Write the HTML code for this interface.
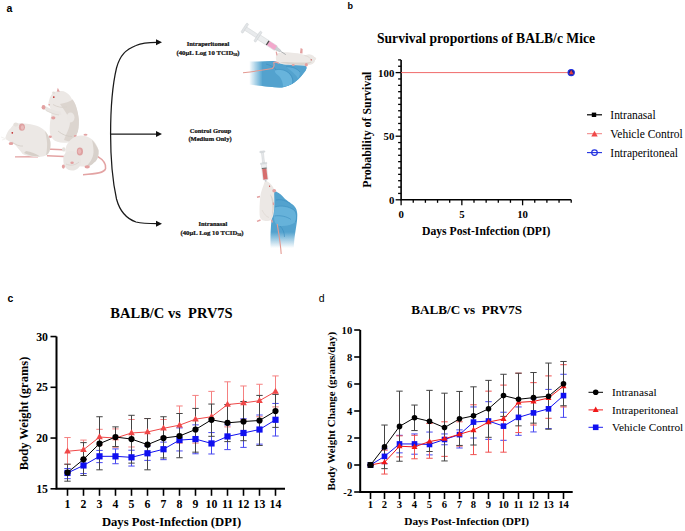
<!DOCTYPE html>
<html><head><meta charset="utf-8"><style>
html,body{margin:0;padding:0;background:#fff;}
body{width:685px;height:531px;overflow:hidden;position:relative;}
svg{position:absolute;left:0;top:0;}
</style></head><body>
<svg width="685" height="531" viewBox="0 0 685 531" style="font-family:'Liberation Serif',serif">
<text x="6.5" y="12" font-size="10.5" font-weight="bold" font-family="'Liberation Sans',sans-serif">a</text>
<text x="347.5" y="8.5" font-size="9" font-weight="bold" font-family="'Liberation Sans',sans-serif">b</text>
<text x="7.5" y="302" font-size="10.5" font-weight="bold" font-family="'Liberation Sans',sans-serif">c</text>
<text x="318.8" y="302" font-size="10.5" font-weight="normal" font-family="'Liberation Sans',sans-serif">d</text>
<path d="M401.1,59.88V199.8H571.20" fill="none" stroke="#000" stroke-width="1.6"/>
<path d="M395.60,199.80H401.1" stroke="#000" stroke-width="1.3"/>
<path d="M398.10,193.44H401.1" stroke="#000" stroke-width="1.3"/>
<path d="M398.10,187.08H401.1" stroke="#000" stroke-width="1.3"/>
<path d="M398.10,180.72H401.1" stroke="#000" stroke-width="1.3"/>
<path d="M398.10,174.36H401.1" stroke="#000" stroke-width="1.3"/>
<path d="M398.10,168.00H401.1" stroke="#000" stroke-width="1.3"/>
<path d="M398.10,161.64H401.1" stroke="#000" stroke-width="1.3"/>
<path d="M398.10,155.28H401.1" stroke="#000" stroke-width="1.3"/>
<path d="M398.10,148.92H401.1" stroke="#000" stroke-width="1.3"/>
<path d="M398.10,142.56H401.1" stroke="#000" stroke-width="1.3"/>
<path d="M395.60,136.20H401.1" stroke="#000" stroke-width="1.3"/>
<path d="M398.10,129.84H401.1" stroke="#000" stroke-width="1.3"/>
<path d="M398.10,123.48H401.1" stroke="#000" stroke-width="1.3"/>
<path d="M398.10,117.12H401.1" stroke="#000" stroke-width="1.3"/>
<path d="M398.10,110.76H401.1" stroke="#000" stroke-width="1.3"/>
<path d="M398.10,104.40H401.1" stroke="#000" stroke-width="1.3"/>
<path d="M398.10,98.04H401.1" stroke="#000" stroke-width="1.3"/>
<path d="M398.10,91.68H401.1" stroke="#000" stroke-width="1.3"/>
<path d="M398.10,85.32H401.1" stroke="#000" stroke-width="1.3"/>
<path d="M398.10,78.96H401.1" stroke="#000" stroke-width="1.3"/>
<path d="M395.60,72.60H401.1" stroke="#000" stroke-width="1.3"/>
<path d="M398.10,66.24H401.1" stroke="#000" stroke-width="1.3"/>
<path d="M398.10,59.88H401.1" stroke="#000" stroke-width="1.3"/>
<path d="M401.10,199.8V205.30" stroke="#000" stroke-width="1.3"/>
<path d="M413.25,199.8V202.80" stroke="#000" stroke-width="1.3"/>
<path d="M425.40,199.8V202.80" stroke="#000" stroke-width="1.3"/>
<path d="M437.55,199.8V202.80" stroke="#000" stroke-width="1.3"/>
<path d="M449.70,199.8V202.80" stroke="#000" stroke-width="1.3"/>
<path d="M461.85,199.8V205.30" stroke="#000" stroke-width="1.3"/>
<path d="M474.00,199.8V202.80" stroke="#000" stroke-width="1.3"/>
<path d="M486.15,199.8V202.80" stroke="#000" stroke-width="1.3"/>
<path d="M498.30,199.8V202.80" stroke="#000" stroke-width="1.3"/>
<path d="M510.45,199.8V202.80" stroke="#000" stroke-width="1.3"/>
<path d="M522.60,199.8V205.30" stroke="#000" stroke-width="1.3"/>
<path d="M534.75,199.8V202.80" stroke="#000" stroke-width="1.3"/>
<path d="M546.90,199.8V202.80" stroke="#000" stroke-width="1.3"/>
<path d="M559.05,199.8V202.80" stroke="#000" stroke-width="1.3"/>
<path d="M571.20,199.8V202.80" stroke="#000" stroke-width="1.3"/>
<text x="394.3" y="203.7" font-size="10.8" font-weight="bold" text-anchor="end" fill="#000" >0</text>
<text x="394.3" y="140.1" font-size="10.8" font-weight="bold" text-anchor="end" fill="#000" >50</text>
<text x="394.3" y="76.5" font-size="10.8" font-weight="bold" text-anchor="end" fill="#000" >100</text>
<text x="401.1" y="218.2" font-size="10.8" font-weight="bold" text-anchor="middle" fill="#000" >0</text>
<text x="461.85" y="218.2" font-size="10.8" font-weight="bold" text-anchor="middle" fill="#000" >5</text>
<text x="522.6" y="218.2" font-size="10.8" font-weight="bold" text-anchor="middle" fill="#000" >10</text>
<path d="M401.1,72.60H571.20" stroke="#f06a6a" stroke-width="1"/>
<circle cx="571.20" cy="72.60" r="3.1" fill="#1a1a8a" stroke="#2030e0" stroke-width="1.2"/>
<path d="M571.20,70.09L573.45,74.14L568.95,74.14Z" fill="#e04040"/>
<text x="486" y="43" font-size="13.6" font-weight="bold" text-anchor="middle" fill="#000" >Survival proportions of BALB/c Mice</text>
<text x="486.2" y="234.6" font-size="11.68" font-weight="bold" text-anchor="middle" fill="#000" >Days Post-Infection (DPI)</text>
<text x="0" y="0" font-size="11.9" font-weight="bold" text-anchor="middle" fill="#000" transform="translate(371,129.6) rotate(-90)">Probability of Survival</text>
<path d="M587,114.8H602" stroke="#000" stroke-width="1.2"/><rect x="591.8" y="112.6" width="4.4" height="4.4" fill="#000"/>
<path d="M587,133.7H602" stroke="#f08080" stroke-width="1"/><path d="M594.50,130.73L597.70,136.49L591.30,136.49Z" fill="#f04848"/>
<circle cx="594.5" cy="152.6" r="2.8" fill="#fff" stroke="#2030e0" stroke-width="1.2"/><path d="M587,152.6H602" stroke="#2030e0" stroke-width="1.1"/>
<text x="0" y="0" font-size="11.8" font-weight="normal" text-anchor="start" fill="#000" transform="translate(610.3,119.10) scale(0.975,1)">Intranasal</text>
<text x="0" y="0" font-size="11.8" font-weight="normal" text-anchor="start" fill="#000" transform="translate(610.3,138.00) scale(0.975,1)">Vehicle Control</text>
<text x="0" y="0" font-size="11.8" font-weight="normal" text-anchor="start" fill="#000" transform="translate(610.3,156.90) scale(0.975,1)">Intraperitoneal</text>
<path d="M56.5,336.55V488.8H285" fill="none" stroke="#000" stroke-width="2.0"/>
<path d="M50.50,488.80H56.5" stroke="#000" stroke-width="1.6"/>
<text x="48.0" y="492.8" font-size="11.8" font-weight="bold" text-anchor="end" fill="#000" >15</text>
<path d="M50.50,438.05H56.5" stroke="#000" stroke-width="1.6"/>
<text x="48.0" y="442.05" font-size="11.8" font-weight="bold" text-anchor="end" fill="#000" >20</text>
<path d="M50.50,387.30H56.5" stroke="#000" stroke-width="1.6"/>
<text x="48.0" y="391.3" font-size="11.8" font-weight="bold" text-anchor="end" fill="#000" >25</text>
<path d="M50.50,336.55H56.5" stroke="#000" stroke-width="1.6"/>
<text x="48.0" y="340.55" font-size="11.8" font-weight="bold" text-anchor="end" fill="#000" >30</text>
<path d="M67.50,488.8V495.80" stroke="#000" stroke-width="1.6"/>
<text x="67.5" y="507.8" font-size="11.8" font-weight="bold" text-anchor="middle" fill="#000" >1</text>
<path d="M83.50,488.8V495.80" stroke="#000" stroke-width="1.6"/>
<text x="83.5" y="507.8" font-size="11.8" font-weight="bold" text-anchor="middle" fill="#000" >2</text>
<path d="M99.50,488.8V495.80" stroke="#000" stroke-width="1.6"/>
<text x="99.5" y="507.8" font-size="11.8" font-weight="bold" text-anchor="middle" fill="#000" >3</text>
<path d="M115.50,488.8V495.80" stroke="#000" stroke-width="1.6"/>
<text x="115.5" y="507.8" font-size="11.8" font-weight="bold" text-anchor="middle" fill="#000" >4</text>
<path d="M131.50,488.8V495.80" stroke="#000" stroke-width="1.6"/>
<text x="131.5" y="507.8" font-size="11.8" font-weight="bold" text-anchor="middle" fill="#000" >5</text>
<path d="M147.50,488.8V495.80" stroke="#000" stroke-width="1.6"/>
<text x="147.5" y="507.8" font-size="11.8" font-weight="bold" text-anchor="middle" fill="#000" >6</text>
<path d="M163.50,488.8V495.80" stroke="#000" stroke-width="1.6"/>
<text x="163.5" y="507.8" font-size="11.8" font-weight="bold" text-anchor="middle" fill="#000" >7</text>
<path d="M179.50,488.8V495.80" stroke="#000" stroke-width="1.6"/>
<text x="179.5" y="507.8" font-size="11.8" font-weight="bold" text-anchor="middle" fill="#000" >8</text>
<path d="M195.50,488.8V495.80" stroke="#000" stroke-width="1.6"/>
<text x="195.5" y="507.8" font-size="11.8" font-weight="bold" text-anchor="middle" fill="#000" >9</text>
<path d="M211.50,488.8V495.80" stroke="#000" stroke-width="1.6"/>
<text x="211.5" y="507.8" font-size="11.8" font-weight="bold" text-anchor="middle" fill="#000" >10</text>
<path d="M227.50,488.8V495.80" stroke="#000" stroke-width="1.6"/>
<text x="227.5" y="507.8" font-size="11.8" font-weight="bold" text-anchor="middle" fill="#000" >11</text>
<path d="M243.50,488.8V495.80" stroke="#000" stroke-width="1.6"/>
<text x="243.5" y="507.8" font-size="11.8" font-weight="bold" text-anchor="middle" fill="#000" >12</text>
<path d="M259.50,488.8V495.80" stroke="#000" stroke-width="1.6"/>
<text x="259.5" y="507.8" font-size="11.8" font-weight="bold" text-anchor="middle" fill="#000" >13</text>
<path d="M275.50,488.8V495.80" stroke="#000" stroke-width="1.6"/>
<text x="275.5" y="507.8" font-size="11.8" font-weight="bold" text-anchor="middle" fill="#000" >14</text>
<path d="M67.50,437.54V464.44M64.30,437.54h6.4M64.30,464.44h6.4" stroke="#f58080" stroke-width="1" fill="none"/>
<path d="M83.50,440.08V459.37M80.30,440.08h6.4M80.30,459.37h6.4" stroke="#f58080" stroke-width="1" fill="none"/>
<path d="M99.50,429.32V445.15M96.30,429.32h6.4M96.30,445.15h6.4" stroke="#f58080" stroke-width="1" fill="none"/>
<path d="M115.50,428.92V447.19M112.30,428.92h6.4M112.30,447.19h6.4" stroke="#f58080" stroke-width="1" fill="none"/>
<path d="M131.50,419.48V446.98M128.30,419.48h6.4M128.30,446.98h6.4" stroke="#f58080" stroke-width="1" fill="none"/>
<path d="M147.50,418.56V445.15M144.30,418.56h6.4M144.30,445.15h6.4" stroke="#f58080" stroke-width="1" fill="none"/>
<path d="M163.50,419.48V437.03M160.30,419.48h6.4M160.30,437.03h6.4" stroke="#f58080" stroke-width="1" fill="none"/>
<path d="M179.50,405.98V443.12M176.30,405.98h6.4M176.30,443.12h6.4" stroke="#f58080" stroke-width="1" fill="none"/>
<path d="M195.50,395.42V443.12M192.30,395.42h6.4M192.30,443.12h6.4" stroke="#f58080" stroke-width="1" fill="none"/>
<path d="M211.50,391.36V442.11M208.30,391.36h6.4M208.30,442.11h6.4" stroke="#f58080" stroke-width="1" fill="none"/>
<path d="M227.50,381.82V426.88M224.30,381.82h6.4M224.30,426.88h6.4" stroke="#f58080" stroke-width="1" fill="none"/>
<path d="M243.50,385.98V419.78M240.30,385.98h6.4M240.30,419.78h6.4" stroke="#f58080" stroke-width="1" fill="none"/>
<path d="M259.50,384.25V416.74M256.30,384.25h6.4M256.30,416.74h6.4" stroke="#f58080" stroke-width="1" fill="none"/>
<path d="M275.50,375.93V406.89M272.30,375.93h6.4M272.30,406.89h6.4" stroke="#f58080" stroke-width="1" fill="none"/>
<path d="M67.50,468.50V478.65M64.30,468.50h6.4M64.30,478.65h6.4" stroke="#4848f0" stroke-width="1" fill="none"/>
<path d="M83.50,459.37V473.57M80.30,459.37h6.4M80.30,473.57h6.4" stroke="#4848f0" stroke-width="1" fill="none"/>
<path d="M99.50,450.43V462.61M96.30,450.43h6.4M96.30,462.61h6.4" stroke="#4848f0" stroke-width="1" fill="none"/>
<path d="M115.50,448.91V463.73M112.30,448.91h6.4M112.30,463.73h6.4" stroke="#4848f0" stroke-width="1" fill="none"/>
<path d="M131.50,450.23V466.06M128.30,450.23h6.4M128.30,466.06h6.4" stroke="#4848f0" stroke-width="1" fill="none"/>
<path d="M147.50,446.17V460.38M144.30,446.17h6.4M144.30,460.38h6.4" stroke="#4848f0" stroke-width="1" fill="none"/>
<path d="M163.50,442.11V459.67M160.30,442.11h6.4M160.30,459.67h6.4" stroke="#4848f0" stroke-width="1" fill="none"/>
<path d="M179.50,427.90V450.94M176.30,427.90h6.4M176.30,450.94h6.4" stroke="#4848f0" stroke-width="1" fill="none"/>
<path d="M195.50,424.86V453.78M192.30,424.86h6.4M192.30,453.78h6.4" stroke="#4848f0" stroke-width="1" fill="none"/>
<path d="M211.50,432.57V453.99M208.30,432.57h6.4M208.30,453.99h6.4" stroke="#4848f0" stroke-width="1" fill="none"/>
<path d="M227.50,424.86V449.62M224.30,424.86h6.4M224.30,449.62h6.4" stroke="#4848f0" stroke-width="1" fill="none"/>
<path d="M243.50,418.77V447.39M240.30,418.77h6.4M240.30,447.39h6.4" stroke="#4848f0" stroke-width="1" fill="none"/>
<path d="M259.50,415.01V444.14M256.30,415.01h6.4M256.30,444.14h6.4" stroke="#4848f0" stroke-width="1" fill="none"/>
<path d="M275.50,403.44V436.02M272.30,403.44h6.4M272.30,436.02h6.4" stroke="#4848f0" stroke-width="1" fill="none"/>
<path d="M67.50,464.14V481.19M64.30,464.14h6.4M64.30,481.19h6.4" stroke="#444" stroke-width="1" fill="none"/>
<path d="M83.50,442.62V475.50M80.30,442.62h6.4M80.30,475.50h6.4" stroke="#444" stroke-width="1" fill="none"/>
<path d="M99.50,416.74V469.82M96.30,416.74h6.4M96.30,469.82h6.4" stroke="#444" stroke-width="1" fill="none"/>
<path d="M115.50,426.88V446.58M112.30,426.88h6.4M112.30,446.58h6.4" stroke="#444" stroke-width="1" fill="none"/>
<path d="M131.50,415.31V463.12M128.30,415.31h6.4M128.30,463.12h6.4" stroke="#444" stroke-width="1" fill="none"/>
<path d="M147.50,418.56V469.82M144.30,418.56h6.4M144.30,469.82h6.4" stroke="#444" stroke-width="1" fill="none"/>
<path d="M163.50,416.74V457.94M160.30,416.74h6.4M160.30,457.94h6.4" stroke="#444" stroke-width="1" fill="none"/>
<path d="M179.50,413.49V457.74M176.30,413.49h6.4M176.30,457.74h6.4" stroke="#444" stroke-width="1" fill="none"/>
<path d="M195.50,408.41V452.16M192.30,408.41h6.4M192.30,452.16h6.4" stroke="#444" stroke-width="1" fill="none"/>
<path d="M211.50,404.05V436.32M208.30,404.05h6.4M208.30,436.32h6.4" stroke="#444" stroke-width="1" fill="none"/>
<path d="M227.50,404.56V441.60M224.30,404.56h6.4M224.30,441.60h6.4" stroke="#444" stroke-width="1" fill="none"/>
<path d="M243.50,401.51V440.69M240.30,401.51h6.4M240.30,440.69h6.4" stroke="#444" stroke-width="1" fill="none"/>
<path d="M259.50,395.42V445.46M256.30,395.42h6.4M256.30,445.46h6.4" stroke="#444" stroke-width="1" fill="none"/>
<path d="M275.50,394.40V427.39M272.30,394.40h6.4M272.30,427.39h6.4" stroke="#444" stroke-width="1" fill="none"/>
<polyline points="67.50,451.25 83.50,449.72 99.50,437.03 115.50,438.05 131.50,432.98 147.50,431.96 163.50,428.31 179.50,425.16 195.50,419.17 211.50,416.74 227.50,404.56 243.50,402.93 259.50,400.70 275.50,391.56" fill="none" stroke="#f04848" stroke-width="1"/>
<path d="M67.50,447.53L70.83,453.52L64.17,453.52Z" fill="#f04848"/>
<path d="M83.50,446.00L86.83,452.00L80.17,452.00Z" fill="#f04848"/>
<path d="M99.50,433.32L102.83,439.31L96.17,439.31Z" fill="#f04848"/>
<path d="M115.50,434.33L118.83,440.33L112.17,440.33Z" fill="#f04848"/>
<path d="M131.50,429.26L134.83,435.25L128.17,435.25Z" fill="#f04848"/>
<path d="M147.50,428.24L150.83,434.24L144.17,434.24Z" fill="#f04848"/>
<path d="M163.50,424.59L166.83,430.59L160.17,430.59Z" fill="#f04848"/>
<path d="M179.50,421.44L182.83,427.44L176.17,427.44Z" fill="#f04848"/>
<path d="M195.50,415.45L198.83,421.45L192.17,421.45Z" fill="#f04848"/>
<path d="M211.50,413.02L214.83,419.01L208.17,419.01Z" fill="#f04848"/>
<path d="M227.50,400.84L230.83,406.83L224.17,406.83Z" fill="#f04848"/>
<path d="M243.50,399.21L246.83,405.21L240.17,405.21Z" fill="#f04848"/>
<path d="M259.50,396.98L262.83,402.98L256.17,402.98Z" fill="#f04848"/>
<path d="M275.50,387.84L278.83,393.84L272.17,393.84Z" fill="#f04848"/>
<polyline points="67.50,472.97 83.50,465.45 99.50,456.32 115.50,456.32 131.50,457.33 147.50,453.28 163.50,449.22 179.50,440.08 195.50,439.07 211.50,443.43 227.50,436.43 243.50,432.98 259.50,429.52 275.50,419.78" fill="none" stroke="#1010f0" stroke-width="1"/>
<rect x="64.40" y="469.87" width="6.2" height="6.2" fill="#1010f0"/>
<rect x="80.40" y="462.35" width="6.2" height="6.2" fill="#1010f0"/>
<rect x="96.40" y="453.22" width="6.2" height="6.2" fill="#1010f0"/>
<rect x="112.40" y="453.22" width="6.2" height="6.2" fill="#1010f0"/>
<rect x="128.40" y="454.23" width="6.2" height="6.2" fill="#1010f0"/>
<rect x="144.40" y="450.18" width="6.2" height="6.2" fill="#1010f0"/>
<rect x="160.40" y="446.12" width="6.2" height="6.2" fill="#1010f0"/>
<rect x="176.40" y="436.98" width="6.2" height="6.2" fill="#1010f0"/>
<rect x="192.40" y="435.97" width="6.2" height="6.2" fill="#1010f0"/>
<rect x="208.40" y="440.33" width="6.2" height="6.2" fill="#1010f0"/>
<rect x="224.40" y="433.33" width="6.2" height="6.2" fill="#1010f0"/>
<rect x="240.40" y="429.88" width="6.2" height="6.2" fill="#1010f0"/>
<rect x="256.40" y="426.42" width="6.2" height="6.2" fill="#1010f0"/>
<rect x="272.40" y="416.68" width="6.2" height="6.2" fill="#1010f0"/>
<polyline points="67.50,472.56 83.50,459.37 99.50,443.63 115.50,437.03 131.50,439.07 147.50,444.65 163.50,438.05 179.50,436.02 195.50,429.52 211.50,419.78 227.50,422.82 243.50,421.51 259.50,420.49 275.50,411.05" fill="none" stroke="#000" stroke-width="1"/>
<circle cx="67.50" cy="472.56" r="3.1" fill="#000"/>
<circle cx="83.50" cy="459.37" r="3.1" fill="#000"/>
<circle cx="99.50" cy="443.63" r="3.1" fill="#000"/>
<circle cx="115.50" cy="437.03" r="3.1" fill="#000"/>
<circle cx="131.50" cy="439.07" r="3.1" fill="#000"/>
<circle cx="147.50" cy="444.65" r="3.1" fill="#000"/>
<circle cx="163.50" cy="438.05" r="3.1" fill="#000"/>
<circle cx="179.50" cy="436.02" r="3.1" fill="#000"/>
<circle cx="195.50" cy="429.52" r="3.1" fill="#000"/>
<circle cx="211.50" cy="419.78" r="3.1" fill="#000"/>
<circle cx="227.50" cy="422.82" r="3.1" fill="#000"/>
<circle cx="243.50" cy="421.51" r="3.1" fill="#000"/>
<circle cx="259.50" cy="420.49" r="3.1" fill="#000"/>
<circle cx="275.50" cy="411.05" r="3.1" fill="#000"/>
<text x="171.5" y="318.2" font-size="14.5" font-weight="bold" text-anchor="middle" fill="#000" >BALB/C vs  PRV7S</text>
<text x="171.5" y="526.3" font-size="12.67" font-weight="bold" text-anchor="middle" fill="#000" >Days Post-Infection (DPI)</text>
<text x="0" y="0" font-size="12.5" font-weight="bold" text-anchor="middle" fill="#000" transform="translate(27.6,413.5) rotate(-90)">Body Weight (grams)</text>
<path d="M360.2,330.00V492H572.7" fill="none" stroke="#000" stroke-width="2.0"/>
<path d="M354.20,492.00H360.2" stroke="#000" stroke-width="1.6"/>
<text x="352.2" y="495.6" font-size="10.6" font-weight="bold" text-anchor="end" fill="#000" >-2</text>
<path d="M354.20,465.00H360.2" stroke="#000" stroke-width="1.6"/>
<text x="352.2" y="468.6" font-size="10.6" font-weight="bold" text-anchor="end" fill="#000" >0</text>
<path d="M354.20,438.00H360.2" stroke="#000" stroke-width="1.6"/>
<text x="352.2" y="441.6" font-size="10.6" font-weight="bold" text-anchor="end" fill="#000" >2</text>
<path d="M354.20,411.00H360.2" stroke="#000" stroke-width="1.6"/>
<text x="352.2" y="414.6" font-size="10.6" font-weight="bold" text-anchor="end" fill="#000" >4</text>
<path d="M354.20,384.00H360.2" stroke="#000" stroke-width="1.6"/>
<text x="352.2" y="387.6" font-size="10.6" font-weight="bold" text-anchor="end" fill="#000" >6</text>
<path d="M354.20,357.00H360.2" stroke="#000" stroke-width="1.6"/>
<text x="352.2" y="360.6" font-size="10.6" font-weight="bold" text-anchor="end" fill="#000" >8</text>
<path d="M354.20,330.00H360.2" stroke="#000" stroke-width="1.6"/>
<text x="352.2" y="333.6" font-size="10.6" font-weight="bold" text-anchor="end" fill="#000" >10</text>
<path d="M370.50,492V499.00" stroke="#000" stroke-width="1.6"/>
<text x="370.5" y="508.1" font-size="10.6" font-weight="bold" text-anchor="middle" fill="#000" >1</text>
<path d="M384.50,492V499.00" stroke="#000" stroke-width="1.6"/>
<text x="384.5" y="508.1" font-size="10.6" font-weight="bold" text-anchor="middle" fill="#000" >2</text>
<path d="M399.50,492V499.00" stroke="#000" stroke-width="1.6"/>
<text x="399.5" y="508.1" font-size="10.6" font-weight="bold" text-anchor="middle" fill="#000" >3</text>
<path d="M414.50,492V499.00" stroke="#000" stroke-width="1.6"/>
<text x="414.5" y="508.1" font-size="10.6" font-weight="bold" text-anchor="middle" fill="#000" >4</text>
<path d="M429.50,492V499.00" stroke="#000" stroke-width="1.6"/>
<text x="429.5" y="508.1" font-size="10.6" font-weight="bold" text-anchor="middle" fill="#000" >5</text>
<path d="M444.50,492V499.00" stroke="#000" stroke-width="1.6"/>
<text x="444.5" y="508.1" font-size="10.6" font-weight="bold" text-anchor="middle" fill="#000" >6</text>
<path d="M459.50,492V499.00" stroke="#000" stroke-width="1.6"/>
<text x="459.5" y="508.1" font-size="10.6" font-weight="bold" text-anchor="middle" fill="#000" >7</text>
<path d="M473.50,492V499.00" stroke="#000" stroke-width="1.6"/>
<text x="473.5" y="508.1" font-size="10.6" font-weight="bold" text-anchor="middle" fill="#000" >8</text>
<path d="M488.50,492V499.00" stroke="#000" stroke-width="1.6"/>
<text x="488.5" y="508.1" font-size="10.6" font-weight="bold" text-anchor="middle" fill="#000" >9</text>
<path d="M503.50,492V499.00" stroke="#000" stroke-width="1.6"/>
<text x="503.5" y="508.1" font-size="10.6" font-weight="bold" text-anchor="middle" fill="#000" >10</text>
<path d="M518.50,492V499.00" stroke="#000" stroke-width="1.6"/>
<text x="518.5" y="508.1" font-size="10.6" font-weight="bold" text-anchor="middle" fill="#000" >11</text>
<path d="M533.50,492V499.00" stroke="#000" stroke-width="1.6"/>
<text x="533.5" y="508.1" font-size="10.6" font-weight="bold" text-anchor="middle" fill="#000" >12</text>
<path d="M548.50,492V499.00" stroke="#000" stroke-width="1.6"/>
<text x="548.5" y="508.1" font-size="10.6" font-weight="bold" text-anchor="middle" fill="#000" >13</text>
<path d="M563.50,492V499.00" stroke="#000" stroke-width="1.6"/>
<text x="563.5" y="508.1" font-size="10.6" font-weight="bold" text-anchor="middle" fill="#000" >14</text>
<path d="M370.50,465.00V465.00M367.30,465.00h6.4M367.30,465.00h6.4" stroke="#4848f0" stroke-width="1" fill="none"/>
<path d="M384.50,448.80V463.65M381.30,448.80h6.4M381.30,463.65h6.4" stroke="#4848f0" stroke-width="1" fill="none"/>
<path d="M399.50,435.30V452.85M396.30,435.30h6.4M396.30,452.85h6.4" stroke="#4848f0" stroke-width="1" fill="none"/>
<path d="M414.50,433.95V454.20M411.30,433.95h6.4M411.30,454.20h6.4" stroke="#4848f0" stroke-width="1" fill="none"/>
<path d="M429.50,432.06V454.88M426.30,432.06h6.4M426.30,454.88h6.4" stroke="#4848f0" stroke-width="1" fill="none"/>
<path d="M444.50,433.95V444.75M441.30,433.95h6.4M441.30,444.75h6.4" stroke="#4848f0" stroke-width="1" fill="none"/>
<path d="M459.50,429.90V447.99M456.30,429.90h6.4M456.30,447.99h6.4" stroke="#4848f0" stroke-width="1" fill="none"/>
<path d="M473.50,406.95V438.00M470.30,406.95h6.4M470.30,438.00h6.4" stroke="#4848f0" stroke-width="1" fill="none"/>
<path d="M488.50,401.69V439.35M485.30,401.69h6.4M485.30,439.35h6.4" stroke="#4848f0" stroke-width="1" fill="none"/>
<path d="M503.50,412.22V440.30M500.30,412.22h6.4M500.30,440.30h6.4" stroke="#4848f0" stroke-width="1" fill="none"/>
<path d="M518.50,406.95V435.30M515.30,406.95h6.4M515.30,435.30h6.4" stroke="#4848f0" stroke-width="1" fill="none"/>
<path d="M533.50,398.85V431.93M530.30,398.85h6.4M530.30,431.93h6.4" stroke="#4848f0" stroke-width="1" fill="none"/>
<path d="M548.50,389.40V428.55M545.30,389.40h6.4M545.30,428.55h6.4" stroke="#4848f0" stroke-width="1" fill="none"/>
<path d="M563.50,374.28V417.35M560.30,374.28h6.4M560.30,417.35h6.4" stroke="#4848f0" stroke-width="1" fill="none"/>
<path d="M370.50,465.00V465.00M367.30,465.00h6.4M367.30,465.00h6.4" stroke="#f05050" stroke-width="1" fill="none"/>
<path d="M384.50,450.15V474.05M381.30,450.15h6.4M381.30,474.05h6.4" stroke="#f05050" stroke-width="1" fill="none"/>
<path d="M399.50,435.84V456.90M396.30,435.84h6.4M396.30,456.90h6.4" stroke="#f05050" stroke-width="1" fill="none"/>
<path d="M414.50,435.30V458.79M411.30,435.30h6.4M411.30,458.79h6.4" stroke="#f05050" stroke-width="1" fill="none"/>
<path d="M429.50,423.56V458.25M426.30,423.56h6.4M426.30,458.25h6.4" stroke="#f05050" stroke-width="1" fill="none"/>
<path d="M444.50,421.80V456.36M441.30,421.80h6.4M441.30,456.36h6.4" stroke="#f05050" stroke-width="1" fill="none"/>
<path d="M459.50,421.80V446.10M456.30,421.80h6.4M456.30,446.10h6.4" stroke="#f05050" stroke-width="1" fill="none"/>
<path d="M473.50,404.79V454.61M470.30,404.79h6.4M470.30,454.61h6.4" stroke="#f05050" stroke-width="1" fill="none"/>
<path d="M488.50,391.15V452.18M485.30,391.15h6.4M485.30,452.18h6.4" stroke="#f05050" stroke-width="1" fill="none"/>
<path d="M503.50,385.08V452.18M500.30,385.08h6.4M500.30,452.18h6.4" stroke="#f05050" stroke-width="1" fill="none"/>
<path d="M518.50,373.20V432.60M515.30,373.20h6.4M515.30,432.60h6.4" stroke="#f05050" stroke-width="1" fill="none"/>
<path d="M533.50,382.65V425.04M530.30,382.65h6.4M530.30,425.04h6.4" stroke="#f05050" stroke-width="1" fill="none"/>
<path d="M548.50,375.90V418.29M545.30,375.90h6.4M545.30,418.29h6.4" stroke="#f05050" stroke-width="1" fill="none"/>
<path d="M563.50,364.69V406.95M560.30,364.69h6.4M560.30,406.95h6.4" stroke="#f05050" stroke-width="1" fill="none"/>
<path d="M370.50,465.00V465.00M367.30,465.00h6.4M367.30,465.00h6.4" stroke="#444" stroke-width="1" fill="none"/>
<path d="M384.50,425.04V468.64M381.30,425.04h6.4M381.30,468.64h6.4" stroke="#444" stroke-width="1" fill="none"/>
<path d="M399.50,391.15V461.22M396.30,391.15h6.4M396.30,461.22h6.4" stroke="#444" stroke-width="1" fill="none"/>
<path d="M414.50,405.06V430.57M411.30,405.06h6.4M411.30,430.57h6.4" stroke="#444" stroke-width="1" fill="none"/>
<path d="M429.50,390.35V451.50M426.30,390.35h6.4M426.30,451.50h6.4" stroke="#444" stroke-width="1" fill="none"/>
<path d="M444.50,393.18V460.95M441.30,393.18h6.4M441.30,460.95h6.4" stroke="#444" stroke-width="1" fill="none"/>
<path d="M459.50,391.43V445.43M456.30,391.43h6.4M456.30,445.43h6.4" stroke="#444" stroke-width="1" fill="none"/>
<path d="M473.50,386.83V445.02M470.30,386.83h6.4M470.30,445.02h6.4" stroke="#444" stroke-width="1" fill="none"/>
<path d="M488.50,380.36V437.32M485.30,380.36h6.4M485.30,437.32h6.4" stroke="#444" stroke-width="1" fill="none"/>
<path d="M503.50,374.28V416.40M500.30,374.28h6.4M500.30,416.40h6.4" stroke="#444" stroke-width="1" fill="none"/>
<path d="M518.50,373.20V425.85M515.30,373.20h6.4M515.30,425.85h6.4" stroke="#444" stroke-width="1" fill="none"/>
<path d="M533.50,372.52V423.15M530.30,372.52h6.4M530.30,423.15h6.4" stroke="#444" stroke-width="1" fill="none"/>
<path d="M548.50,363.07V429.23M545.30,363.07h6.4M545.30,429.23h6.4" stroke="#444" stroke-width="1" fill="none"/>
<path d="M563.50,361.46V405.74M560.30,361.46h6.4M560.30,405.74h6.4" stroke="#444" stroke-width="1" fill="none"/>
<polyline points="370.50,465.00 384.50,456.36 399.50,443.94 414.50,443.94 429.50,444.48 444.50,439.49 459.50,434.62 473.50,422.07 488.50,420.99 503.50,426.12 518.50,417.35 533.50,412.89 548.50,408.84 563.50,395.61" fill="none" stroke="#1010f0" stroke-width="1"/>
<rect x="367.70" y="462.20" width="5.6" height="5.6" fill="#1010f0"/>
<rect x="381.70" y="453.56" width="5.6" height="5.6" fill="#1010f0"/>
<rect x="396.70" y="441.14" width="5.6" height="5.6" fill="#1010f0"/>
<rect x="411.70" y="441.14" width="5.6" height="5.6" fill="#1010f0"/>
<rect x="426.70" y="441.68" width="5.6" height="5.6" fill="#1010f0"/>
<rect x="441.70" y="436.69" width="5.6" height="5.6" fill="#1010f0"/>
<rect x="456.70" y="431.82" width="5.6" height="5.6" fill="#1010f0"/>
<rect x="470.70" y="419.27" width="5.6" height="5.6" fill="#1010f0"/>
<rect x="485.70" y="418.19" width="5.6" height="5.6" fill="#1010f0"/>
<rect x="500.70" y="423.32" width="5.6" height="5.6" fill="#1010f0"/>
<rect x="515.70" y="414.55" width="5.6" height="5.6" fill="#1010f0"/>
<rect x="530.70" y="410.09" width="5.6" height="5.6" fill="#1010f0"/>
<rect x="545.70" y="406.04" width="5.6" height="5.6" fill="#1010f0"/>
<rect x="560.70" y="392.81" width="5.6" height="5.6" fill="#1010f0"/>
<polyline points="370.50,465.00 384.50,462.30 399.50,446.24 414.50,446.91 429.50,441.51 444.50,438.81 459.50,434.22 473.50,430.17 488.50,422.07 503.50,418.97 518.50,402.36 533.50,401.42 548.50,398.04 563.50,386.16" fill="none" stroke="#f01818" stroke-width="1"/>
<path d="M370.50,461.64L373.51,467.06L367.49,467.06Z" fill="#f01818"/>
<path d="M384.50,458.94L387.51,464.36L381.49,464.36Z" fill="#f01818"/>
<path d="M399.50,442.88L402.51,448.29L396.49,448.29Z" fill="#f01818"/>
<path d="M414.50,443.55L417.51,448.97L411.49,448.97Z" fill="#f01818"/>
<path d="M429.50,438.15L432.51,443.57L426.49,443.57Z" fill="#f01818"/>
<path d="M444.50,435.45L447.51,440.87L441.49,440.87Z" fill="#f01818"/>
<path d="M459.50,430.86L462.51,436.28L456.49,436.28Z" fill="#f01818"/>
<path d="M473.50,426.81L476.51,432.23L470.49,432.23Z" fill="#f01818"/>
<path d="M488.50,418.71L491.51,424.13L485.49,424.13Z" fill="#f01818"/>
<path d="M503.50,415.61L506.51,421.02L500.49,421.02Z" fill="#f01818"/>
<path d="M518.50,399.00L521.51,404.42L515.49,404.42Z" fill="#f01818"/>
<path d="M533.50,398.06L536.51,403.47L530.49,403.47Z" fill="#f01818"/>
<path d="M548.50,394.68L551.51,400.10L545.49,400.10Z" fill="#f01818"/>
<path d="M563.50,382.80L566.51,388.22L560.49,388.22Z" fill="#f01818"/>
<polyline points="370.50,465.00 384.50,446.91 399.50,426.39 414.50,417.75 429.50,421.26 444.50,427.61 459.50,418.83 473.50,415.86 488.50,408.84 503.50,395.61 518.50,399.25 533.50,397.63 548.50,396.28 563.50,383.73" fill="none" stroke="#000" stroke-width="1"/>
<circle cx="370.50" cy="465.00" r="2.8" fill="#000"/>
<circle cx="384.50" cy="446.91" r="2.8" fill="#000"/>
<circle cx="399.50" cy="426.39" r="2.8" fill="#000"/>
<circle cx="414.50" cy="417.75" r="2.8" fill="#000"/>
<circle cx="429.50" cy="421.26" r="2.8" fill="#000"/>
<circle cx="444.50" cy="427.61" r="2.8" fill="#000"/>
<circle cx="459.50" cy="418.83" r="2.8" fill="#000"/>
<circle cx="473.50" cy="415.86" r="2.8" fill="#000"/>
<circle cx="488.50" cy="408.84" r="2.8" fill="#000"/>
<circle cx="503.50" cy="395.61" r="2.8" fill="#000"/>
<circle cx="518.50" cy="399.25" r="2.8" fill="#000"/>
<circle cx="533.50" cy="397.63" r="2.8" fill="#000"/>
<circle cx="548.50" cy="396.28" r="2.8" fill="#000"/>
<circle cx="563.50" cy="383.73" r="2.8" fill="#000"/>
<rect x="367.60" y="462.10" width="5.8" height="5.8" fill="#000"/>
<text x="466.7" y="314.4" font-size="13.15" font-weight="bold" text-anchor="middle" fill="#000" >BALB/C vs  PRV7S</text>
<text x="466.7" y="524.7" font-size="11.37" font-weight="bold" text-anchor="middle" fill="#000" >Days Post-Infection (DPI)</text>
<text x="0" y="0" font-size="10.97" font-weight="bold" text-anchor="middle" fill="#000" transform="translate(334.6,411.2) rotate(-90)">Body Weight Change (grams/day)</text>
<path d="M588.5,392.3H603" stroke="#000" stroke-width="1"/><circle cx="595.7" cy="392.3" r="2.8" fill="#000"/>
<path d="M588.5,409.9H603" stroke="#f02020" stroke-width="1"/><path d="M595.70,406.55L598.70,411.95L592.70,411.95Z" fill="#f01818"/>
<path d="M588.5,427.3H603" stroke="#2020f0" stroke-width="1"/><rect x="592.9" y="424.5" width="5.6" height="5.6" fill="#1010f0"/>
<text x="612" y="396.3" font-size="11.3" font-weight="normal" text-anchor="start" fill="#000" >Intranasal</text>
<text x="612" y="413.9" font-size="11.3" font-weight="normal" text-anchor="start" fill="#000" >Intraperitoneal</text>
<text x="612" y="431.3" font-size="11.3" font-weight="normal" text-anchor="start" fill="#000" >Vehicle Control</text>
<defs>
<filter id="soft" x="-10%" y="-10%" width="120%" height="120%"><feGaussianBlur stdDeviation="0.3"/></filter>
<linearGradient id="gloveTop" x1="249" y1="0" x2="262" y2="0" gradientUnits="userSpaceOnUse">
<stop offset="0" stop-color="#5aa8d2" stop-opacity="0"/><stop offset="1" stop-color="#5aa8d2" stop-opacity="1"/>
</linearGradient>
<linearGradient id="gloveBot" x1="0" y1="232" x2="0" y2="248" gradientUnits="userSpaceOnUse">
<stop offset="0" stop-color="#52a2ce" stop-opacity="1"/><stop offset="1" stop-color="#52a2ce" stop-opacity="0"/>
</linearGradient>
</defs>
<g id="arrows" fill="none" stroke="#1a1a1a" stroke-width="1.25">
<path d="M157,42.3 C148,42.3 142,42.8 136,45.5 C126,49.5 120,55 116.5,68 C112.5,85 110.6,110 110.6,134 C110.6,158 112.3,180 116.5,199 C120,212 126,218.5 136,222 C142,223.5 148,223.7 157,223.7"/>
<path d="M110.6,134H157"/>
</g>
<path d="M156,39.3L162,42.3L156,45.3Z M156,131L162,134L156,137Z M156,220.7L162,223.7L156,226.7Z" fill="#111"/>
<g font-weight="bold" font-size="6.5" text-anchor="middle" fill="#111" stroke="#111" stroke-width="0.22">
<text x="208" y="45.8">Intraperitoneal</text>
<text x="208" y="54.8" font-size="6.75">(40μL Log 10 TCID<tspan font-size="4" dy="1">50</tspan><tspan dy="-1">)</tspan></text>
<text x="210.5" y="132.8">Control Group</text>
<text x="210" y="140.8">(Medium Only)</text>
<text x="212.9" y="225.5">Intranasal</text>
<text x="212" y="234.8" font-size="6.75">(40μL Log 10 TCID<tspan font-size="4" dy="1">50</tspan><tspan dy="-1">)</tspan></text>
</g>

<g id="mice" filter="url(#soft)">
<!-- tails of left/middle mice -->
<path d="M46,149 L63,149.8 M47,155.8 L64,156.4" stroke="#e3a3a3" stroke-width="1.5" fill="none"/>
<path d="M15,156.9 L38,156.7" stroke="#e3a3a3" stroke-width="1.4" fill="none"/>
<!-- middle sitting mouse -->
<path d="M48.2,104.4 C49,99 50.5,95.5 53,93 C56,90.5 60,90.8 63.7,91.2 C67,92.5 70,95 71.6,98.5 C75,102 77.6,109 78.9,119.5 C79,126 78.5,131 76.9,134 C75.5,137 74,139 73,140 C70,142.5 66.5,143 63.7,142.8 C59,142.5 55,141.5 53,139.3 C50.5,136.5 49.5,133 49.7,129 C49.8,124 50.2,119.5 51.5,114 C51,110 50.6,107 48.2,104.4Z" fill="#ece8e5"/>
<path d="M60,104 C66,103 71,101 72.5,99.5 C75.5,103 77.8,110 78.9,119.5 C79,126 78.5,131 76.9,134 C75.5,137 74,139 73,140 C70,141.5 67,141.5 64,140 C66,134 70,128 70,122 C69,116 64,110 60,104Z" fill="#dcd5cf"/>
<ellipse cx="70.5" cy="117.5" rx="4" ry="5" fill="#ebe7e4"/>
<path d="M53,104.5 C57,107 62,108 67,107" stroke="#d9d2cc" stroke-width="0.9" fill="none"/>
<path d="M58,131 C62,134.5 67,136.5 72,136.5" stroke="#d2cbc4" stroke-width="0.8" fill="none"/>
<ellipse cx="53.6" cy="92.8" rx="1.5" ry="1.3" fill="#e4dfda"/>
<path d="M56.8,91.6 L57.8,87.8 L59.8,91.8Z" fill="#e0a0a0"/>
<circle cx="53.8" cy="97.1" r="0.85" fill="#c02828"/>
<path d="M44,107.5 C47,109 50,111 55,112.5 C57,113 59,113.5 61,113" stroke="#e9e5e2" stroke-width="3.8" fill="none"/>
<path d="M46,110.5 C50,112.5 54,114.5 59,115" stroke="#d9d2cc" stroke-width="0.7" fill="none"/>
<ellipse cx="43.5" cy="107.2" rx="1.9" ry="2.3" fill="#e3a0a0"/>
<ellipse cx="53.3" cy="117.8" rx="2.1" ry="1.6" fill="#e3a0a0"/>
<ellipse cx="50.2" cy="136.8" rx="1.7" ry="1.3" fill="#e3a0a0"/>
<ellipse cx="75.3" cy="136" rx="1.5" ry="1.1" fill="#e3a0a0"/>
<ellipse cx="49.2" cy="104.7" rx="0.9" ry="0.8" fill="#e3a0a0"/>
<!-- left crouching mouse -->
<path d="M5.3,138 C6.5,133 8.5,130 10.6,128.2 C12.5,125.5 14,124 15.8,123.7 C20,123 24,123.3 27,123.7 C32,124.5 36,125.3 39.2,126.7 C43.5,129 46,131.5 47.5,134.3 C49.8,138 50.8,141.5 50.5,144.8 C50.5,149 49.5,152 48.2,153.9 C46,156 41,157.2 36.2,156.9 C31,156.8 26,155.5 22.6,153.9 C19.5,150 17,147 15,144.8 C12,143 9.5,141.8 7.5,140.3 C6.2,139.5 5.5,138.8 5.3,138Z" fill="#ece8e5"/>
<path d="M45,131 C48.5,135 50.8,140 50.5,145 C50.4,150 49,153.5 46,155.5 C47,150 47.5,145 46.8,140 C46.3,137 45.8,134 45,131Z" fill="#d9d2cc"/>
<path d="M24,153 C29,155.5 34,156.5 40,156.5 C36,153.5 31,152 26,151Z" fill="#d6cfc8"/>
<path d="M12,142 C16,145 20,146.5 23,146" stroke="#d8d1cb" stroke-width="0.9" fill="none"/>
<ellipse cx="15.8" cy="124.6" rx="2.4" ry="2.1" fill="#e5e0db"/>
<ellipse cx="21.9" cy="127.2" rx="3" ry="3.6" fill="#dea0a0"/>
<ellipse cx="22.4" cy="127.5" rx="1.5" ry="2.2" fill="#e9bcbc"/>
<circle cx="12.3" cy="132.8" r="0.85" fill="#c02828"/>
<ellipse cx="11" cy="143.5" rx="2.3" ry="1.6" fill="#e3a0a0"/>
<path d="M1,137 L5,138.5 M2,140 L5.5,139" stroke="#e6e2de" stroke-width="0.5"/>
<!-- right curled mouse -->
<path d="M97.5,156.3 C102,159 106.5,163 105.6,168.5 C104.5,173 96,174 83,174.7" stroke="#e3a3a3" stroke-width="1.5" fill="none"/>
<path d="M66.4,145.7 C69,140 74.5,135.5 80.9,135.4 C89,135.3 96,140.5 98.5,149.9 C99,155.5 97.5,160 94.4,162.3 C91.5,165.5 89,166.5 86,166.5 C79,167 72,165 68,161 C65,157 64.8,150 66.4,145.7Z" fill="#ece8e5"/>
<path d="M92,140 C96,144 98.5,149.9 98.5,149.9 C99,155.5 97.5,160 94.4,162.3 C91.5,165.5 89,166.5 86,166.5 C91,162 94,156 93.5,150 C93.3,146 92.8,143 92,140Z" fill="#d8d1cb"/>
<path d="M63.3,157.5 C64,153.5 67,151 71.5,151 C77,151.5 80.5,155.5 80.9,161 C81,166.5 77.5,170.6 72,170.6 C66.5,170.5 63.3,166 63.3,160Z" fill="#e9e5e2"/>
<path d="M66,164 C70,166 75,165.5 79,162" stroke="#d8d1cb" stroke-width="0.8" fill="none"/>
<ellipse cx="63.8" cy="149.4" rx="1.8" ry="2.2" fill="#e5e0db"/>
<ellipse cx="79.9" cy="151.5" rx="3.1" ry="4" fill="#dea0a0"/>
<ellipse cx="79.5" cy="151.3" rx="1.7" ry="2.6" fill="#eab8b8"/>
<ellipse cx="72.1" cy="162.8" rx="1.7" ry="1.2" fill="#e3a0a0"/>
<ellipse cx="63.4" cy="166.6" rx="1.5" ry="2.1" fill="#e3a0a0"/>
<ellipse cx="87.2" cy="166.8" rx="2.7" ry="1.6" fill="#e3a0a0"/>
<ellipse cx="85.5" cy="134.8" rx="2" ry="1" fill="#e3a3a3"/>
</g>

<!-- top: intraperitoneal syringe + hand -->
<g id="ip" filter="url(#soft)">
<path d="M249.4,61.4 C258,61.5 266,61.5 273.5,61 C280,63 292,64.5 304,65 C307.5,66 307,69 304.5,72 C301,77 296,82 291,84.5 C287,86.5 283,87.6 279,87.6 C268,86.8 258,85.8 249.4,84.6 Z" fill="url(#gloveTop)"/>
<path d="M262,62 L273.5,61 C280,63 292,64.5 304,65 C307.5,66 307,69 304.5,72 C301,77 296,82 291,84.5 C287,86.5 283,87.6 279,87.6 C273,87.2 267,86.6 262,86Z" fill="#52a2ce"/>
<path d="M275,70 C279,68.5 284,69.5 288,72.5 C291,75.5 293,79 292.5,83 C290,85.5 286,86.5 283,86.5 C283,82 281,77 276.5,74 C275,72.5 274.5,71 275,70Z" fill="#68b4dc"/>
<path d="M286,67 C291,66.5 296,68 299,71 C300.5,73 300,76 298,78.5 C296,75 292,71 286,67Z" fill="#62aed8"/>
<path d="M275,70 C280,68.5 286,70 290,74 C292.5,77 293.5,80.5 292.5,83.5 M286,66.8 C292,66.5 297,68.5 300,72 M266,64 C270,65 274,67 276,69.5" stroke="#3a8abd" stroke-width="0.7" fill="none" opacity="0.8"/>
<path d="M243,72.8 C254,71.5 264,70 272.4,68.5 C274,67 274.5,64.5 273.5,62.5" stroke="#e39a92" stroke-width="1.1" fill="none"/>
<path d="M276.5,54 C279,52 284,51.8 290,52.5 C296,53 300,53.5 304,54.8 C308,55.2 312,56 315.3,57.5 C316,58.5 315,60.5 313,62 C311,64 309,65.5 305.5,65.8 C300,65.5 294,65.3 288,64.8 C282,64.5 278,63.5 276.5,61 C275.5,59 275.7,56 276.5,54Z" fill="#ece8e5"/>
<ellipse cx="309" cy="59.6" rx="6.2" ry="5.3" fill="#ece8e5"/>
<path d="M313,56.5 C315,57 316.3,58 316.3,58.8 C315.5,60 314.5,61 313,61.5Z" fill="#ece8e5"/>
<path d="M280,62.8 C286,64 294,64.8 302,65 C306,64.8 309,64 312,62 C306,62.5 298,62.8 290,62.3 C285,62 282,61.8 280,62.8Z" fill="#d9d3cd"/>
<path d="M304.5,55.5 C308,56 311,58 311.5,61 C310,63 307,64 304,63.5" stroke="#dcd6d0" stroke-width="0.7" fill="none"/>
<path d="M300,53.2 L300.6,48 L302.6,49 L302.5,53.5Z" fill="#e3a0a0"/>
<ellipse cx="306.3" cy="64.7" rx="1.6" ry="1.8" fill="#e3a0a0"/>
<ellipse cx="293.2" cy="64.9" rx="1.6" ry="1" fill="#e3a0a0"/>
<circle cx="311.2" cy="59.8" r="0.6" fill="#c02828"/>
<path d="M276.2,51.6 L277,55.4" stroke="#e3a0a0" stroke-width="1.2"/>
<path d="M273.5,62.5 C275,62 277.5,62.5 279,63.5" stroke="#e3a0a0" stroke-width="1.2" fill="none"/>
<g transform="translate(244.8,28.1) rotate(32.9)">
<rect x="-1.2" y="-5.5" width="2.4" height="11" rx="1.1" fill="#e2e5e7" stroke="#c4c9cc" stroke-width="0.4"/>
<rect x="1" y="-1.9" width="14" height="3.8" fill="#e8eaec" stroke="#c8cccf" stroke-width="0.4"/>
<rect x="14.5" y="-6" width="2.4" height="12" rx="1" fill="#e2e5e7" stroke="#c4c9cc" stroke-width="0.4"/>
<rect x="16.8" y="-2.65" width="20.2" height="5.3" fill="#eceeef" stroke="#c6cacd" stroke-width="0.4"/>
<rect x="27.6" y="-2.4" width="9.2" height="4.8" fill="#f2a8cc"/>
<rect x="26.6" y="-2.5" width="1.3" height="5" fill="#4a4a4a"/>
<path d="M37,-1.8 L42.4,-0.9 L42.4,0.9 L37,1.8Z" fill="#cdd2d5" stroke="#aab0b4" stroke-width="0.3"/>
<path d="M42.4,0 L48.8,0" stroke="#7a8086" stroke-width="0.5"/>
</g>
</g>

<!-- bottom: intranasal syringe + hand -->
<g id="in" filter="url(#soft)">
<path d="M276.1,191.6 C278,192.5 279.5,193.5 280.8,194.4 C283,196.5 284.5,198.5 286.5,200 C289,202 291,203.3 293,204.8 C294.8,206.5 295.8,208 296.4,209.5 C297,211.5 297.3,213 297.3,215.1 C297.3,218 297.1,220.5 296.8,222.6 C296.2,227 295.5,231 294.9,235 C294.3,239 294,243 293.8,248 L270.6,248 C270.5,243 270.4,239 270.5,235 C270.7,230 271,225 271.4,220.8 C272,216 273.3,212 273.3,209.5 C272.5,207 271.5,205.5 271.4,203.8 C271.5,199 271.8,196 272.4,193.5 C273.5,192.3 274.8,191.6 276.1,191.6Z" fill="url(#gloveBot)"/>
<path d="M275,207 C281,205 289,206.5 294,210 C297,213 297,218 295.5,222 C292,225 286,226.5 280,226 C276,225.5 274,222 274,217 C274,212 274,209 275,207Z" fill="#66b2da"/>
<path d="M275,207 C281,205 289,206.5 294,210 C297,213 297,218 295.5,222 M274.5,216 C280,215 287,216.5 291,219.5 M276,200 C281,199 286,200.5 290,203.5 M280,226 C283,229 284.5,233 284.5,237" stroke="#3a8abd" stroke-width="0.7" fill="none" opacity="0.8"/>
<path d="M277.2,224 C278.5,232 280.5,243 281.2,254" stroke="#e39a92" stroke-width="1.1" fill="none"/>
<path d="M265.2,180.6 C267.5,181.2 270,183 272,185.5 C274,188 274.8,191 274.2,194 C274.3,198 274.6,203 274.2,208 C274,213 273.3,217 271.5,219.5 C269.5,221 267,221.2 264.5,220.8 C261.5,220.3 259.7,218.5 259.6,215 C259.4,209 259.6,202 260.4,196 C261,192 262.3,188 263.6,185 C264.2,183 264.7,181.5 265.2,180.6Z" fill="#ece8e5"/>
<path d="M270,194 C272.5,200 273,207 272,214 C271.5,217.5 270.5,219.5 268.5,220.5 C272,218 273.6,212.5 273.8,206 C274,201 273,197 270,194Z" fill="#d9d3cd"/>
<path d="M262,210 C264,214 266,216.5 269,217.5" stroke="#ddd7d1" stroke-width="0.7" fill="none"/>
<ellipse cx="274.2" cy="190.8" rx="1.9" ry="1.8" fill="#e3a0a0"/>
<circle cx="269.6" cy="186.2" r="0.6" fill="#c02828"/>
<path d="M260,196.5 L257,197.2" stroke="#e3a0a0" stroke-width="1.4"/>
<path d="M273.3,202.5 L273.5,205" stroke="#e3a0a0" stroke-width="1.3"/>
<path d="M260.5,220 L257,221.4 M271.5,219.8 L272.4,222.5" stroke="#e3a0a0" stroke-width="1.4"/>
<g transform="translate(262.3,151.8) rotate(83.3)">
<rect x="-0.7" y="-2.6" width="1.4" height="5.2" rx="0.6" fill="#dfe2e4" stroke="#bfc4c8" stroke-width="0.4"/>
<rect x="0.7" y="-1" width="10.6" height="2" fill="#e6e8ea" stroke="#c6cacd" stroke-width="0.4"/>
<rect x="11.1" y="-3.1" width="1.3" height="6.2" fill="#e0e3e5" stroke="#c0c5c8" stroke-width="0.4"/>
<rect x="12.3" y="-2.5" width="15.6" height="5" fill="#eceef0" stroke="#c8ccd0" stroke-width="0.4"/>
<rect x="16.8" y="-2.1" width="11" height="4.2" fill="#d66e6e"/>
<rect x="16" y="-2.4" width="1" height="4.8" fill="#666"/>
<path d="M27.9,-1.2 L30,-0.6 L30,0.6 L27.9,1.2Z" fill="#c9ced2"/>
</g>
</g>

</svg>
</body></html>
